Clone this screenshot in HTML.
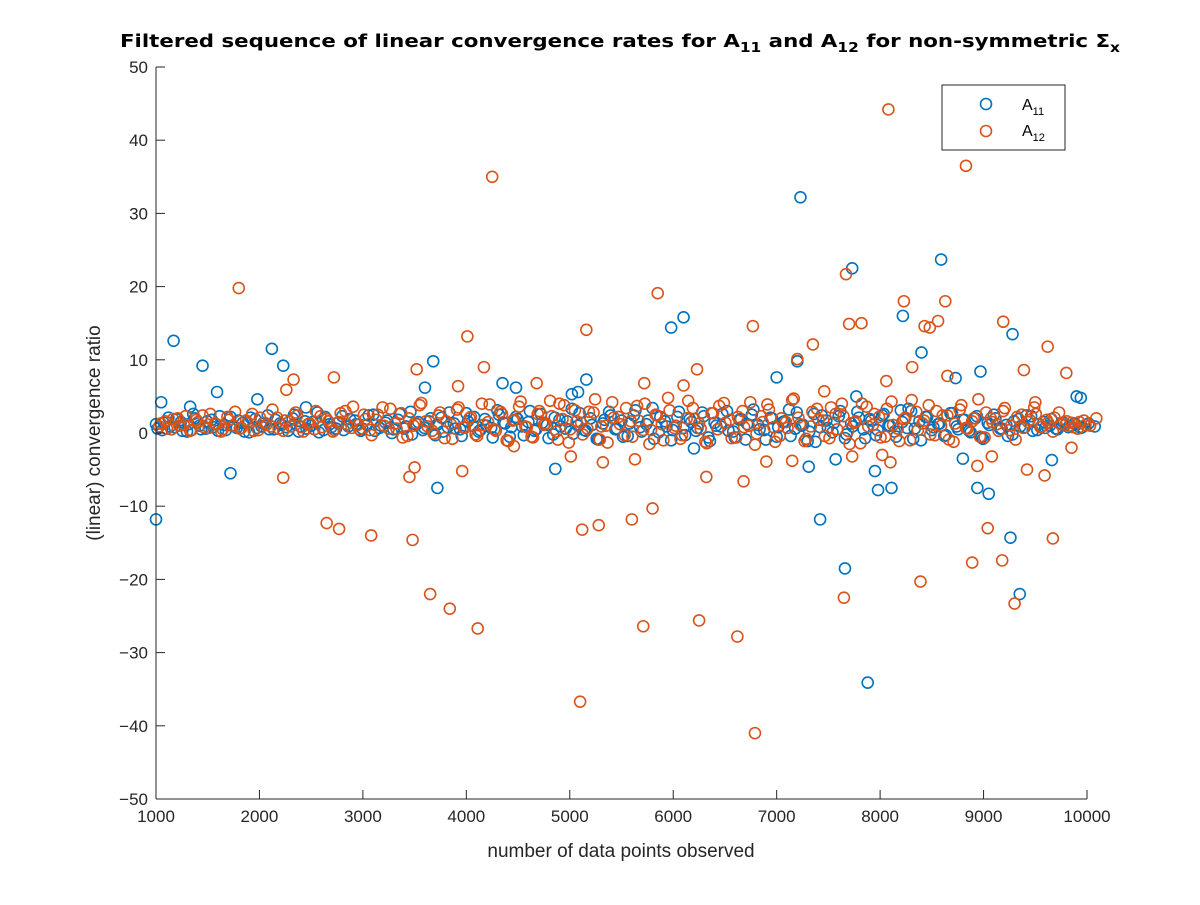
<!DOCTYPE html>
<html><head><meta charset="utf-8"><style>
body{margin:0;background:#fff}
svg text{font-family:"Liberation Sans","DejaVu Sans",sans-serif}
</style></head><body>
<svg id="c" width="1200" height="900" viewBox="0 0 1200 900">
<rect width="1200" height="900" fill="#fff"/>
<g id="marks"></g>
<g id="axes"></g>
<text x="120" y="47" textLength="1000" lengthAdjust="spacingAndGlyphs" font-size="18" font-weight="bold" style="font-family:'DejaVu Sans','Liberation Sans',sans-serif">Filtered sequence of linear convergence rates for A<tspan font-size="13" dy="5">11</tspan><tspan dy="-5"> and A</tspan><tspan font-size="13" dy="5">12</tspan><tspan dy="-5"> for non-symmetric Σ</tspan><tspan font-size="13" dy="5">x</tspan></text>
<text x="621" y="857" text-anchor="middle" font-size="19" fill="#262626">number of data points observed</text>
<text transform="translate(100,433) rotate(-90)" text-anchor="middle" font-size="19" fill="#262626">(linear) convergence ratio</text>
<g>
<rect x="942" y="85" width="123" height="65" fill="#fff" stroke="#262626" stroke-width="1"/>
<circle cx="986" cy="104" r="5.5" fill="none" stroke="#0072BD" stroke-width="1.6"/>
<text x="1022" y="110" font-size="16">A<tspan font-size="11" dy="5">11</tspan></text>
<circle cx="986" cy="131" r="5.5" fill="none" stroke="#D95319" stroke-width="1.6"/>
<text x="1022" y="136" font-size="16">A<tspan font-size="11" dy="5">12</tspan></text>
</g>
</svg>
<script>
const xTicks=[1000,2000,3000,4000,5000,6000,7000,8000,9000,10000];
const yTicks=[-50,-40,-30,-20,-10,0,10,20,30,40,50];
const a11OutX=[1000,1050,1170,1330,1450,1590,1720,1980,2120,2230,2450,3600,3680,3720,4350,4480,4860,5020,5080,5160,5980,6100,6200,7000,7200,7230,7310,7420,7570,7660,7730,7770,7880,7950,7980,8110,8220,8300,8400,8590,8730,8800,8940,8970,9050,9260,9280,9350,9660,9900,9940];
const a11OutY=[-11.8,4.2,12.6,3.6,9.2,5.6,-5.5,4.6,11.5,9.2,3.5,6.2,9.8,-7.5,6.8,6.2,-4.9,5.3,5.6,7.3,14.4,15.8,-2.1,7.6,9.8,32.2,-4.6,-11.8,-3.6,-18.5,22.5,5,-34.1,-5.2,-7.8,-7.5,16,3,11,23.7,7.5,-3.5,-7.5,8.4,-8.3,-14.3,13.5,-22,-3.7,5,4.8];
const a12OutX=[1800,2230,2260,2330,2650,2720,2770,3080,3450,3480,3500,3520,3650,3840,3920,3960,4010,4110,4170,4250,4460,4680,4900,5010,5100,5120,5160,5280,5320,5600,5630,5710,5720,5800,5850,6100,6230,6250,6320,6620,6680,6770,6790,6900,7150,7200,7350,7460,7650,7670,7700,7730,7820,8020,8060,8080,8100,8230,8310,8390,8430,8480,8560,8630,8650,8830,8890,8940,9040,9080,9180,9190,9300,9390,9420,9590,9620,9670,9800,9850,9500];
const a12OutY=[19.8,-6.1,5.9,7.3,-12.3,7.6,-13.1,-14,-6,-14.6,-4.7,8.7,-22,-24,6.4,-5.2,13.2,-26.7,9,35,-1.8,6.8,4,-3.2,-36.7,-13.2,14.1,-12.6,-4,-11.8,-3.6,-26.4,6.8,-10.3,19.1,6.5,8.7,-25.6,-6,-27.8,-6.6,14.6,-41,-3.9,-3.8,10.1,12.1,5.7,-22.5,21.7,14.9,-3.2,15,-3,7.1,44.2,-4,18,9,-20.3,14.6,14.4,15.3,18,7.8,36.5,-17.7,-4.5,-13,-3.2,-17.4,15.2,-23.3,8.6,-5,-5.8,11.8,-14.4,8.2,-2,4.2];
const bandStart=1000, bandStep=60;
const a11Band=[1.2,0.4,2.1,0.8,1.5,0.2,2.6,1.0,0.6,1.8,0.3,1.1,2.2,0.7,1.4,0.1,1.9,0.9,2.4,0.5,1.3,0.8,2.0,0.2,1.6,1.0,2.8,0.4,1.2,0.6,2.3,0.9,1.7,0.3,1.1,2.5,0.7,1.4,0.0,1.8,0.6,2.9,1.2,0.4,1.6,-0.3,2.1,0.8,1.3,0.5,2.7,1.0,0.2,1.9,0.7,3.1,1.4,-0.5,2.2,0.9,1.5,0.3,2.6,1.1,-0.2,1.8,0.6,3.3,1.0,0.4,2.0,-0.8,1.3,2.9,0.5,1.7,-0.4,2.4,0.8,1.2,3.4,0.1,1.6,-1.0,2.2,0.7,1.9,0.3,2.8,-0.6,1.4,0.9,3.0,0.2,1.8,-0.9,2.5,1.1,0.4,2.1,-0.5,1.5,3.2,0.6,1.0,-1.1,2.6,0.8,1.7,0.1,2.3,-0.7,1.3,2.9,0.5,1.9,-0.3,2.4,1.0,0.2,3.1,0.7,-0.8,1.6,2.2,0.4,1.2,-0.4,2.7,0.9,1.8,0.3,2.0,-0.6,1.4,2.5,0.6,1.1,-0.2,1.9,0.8,2.3,0.4,1.5,1.0,0.6,1.2,0.8,1.3,0.7];
const a11Band2=[0.6,1.4,0.9,1.9,0.3,1.2,2.0,0.5,1.6,0.8,2.3,0.4,1.0,1.7,0.2,2.1,0.7,1.3,0.5,1.8,1.1,0.3,2.5,0.9,0.6,1.5,0.1,2.2,0.8,1.4,0.4,1.9,1.2,0.6,2.4,0.3,1.0,1.7,0.5,2.6,0.9,-0.2,1.5,0.7,2.0,1.1,0.2,2.8,0.6,-0.4,1.6,2.2,0.4,1.0,-0.6,2.5,1.3,0.8,1.9,-0.3,3.0,0.5,1.4,-0.7,2.1,0.9,1.6,-0.1,2.7,0.3,1.1,-0.9,1.8,2.4,0.6,-0.5,1.3,3.1,0.2,1.7,-0.8,2.2,0.9,0.4,2.9,-0.3,1.5,0.7,2.3,-1.1,1.0,2.6,0.3,-0.6,1.9,1.2,3.2,0.5,-0.9,2.0,0.8,1.6,-0.4,2.8,1.1,0.2,-1.2,2.4,0.7,1.4,3.0,-0.2,0.9,2.1,-0.7,1.7,0.4,2.6,1.0,-0.5,1.5,3.3,0.6,-1.0,2.2,0.8,1.3,-0.3,2.7,0.5,1.8,0.1,2.3,-0.8,1.1,2.0,0.6,-0.4,1.6,0.9,2.4,0.3,1.2,0.7,1.9,0.5,1.4,1.0,1.1,0.8,1.3,0.9];
const a12Band=[0.9,1.6,0.5,2.0,1.1,0.3,1.8,2.4,0.7,1.3,0.2,2.2,1.0,0.6,1.7,2.6,0.4,1.4,0.9,2.1,0.3,1.6,2.8,0.8,1.2,0.5,2.3,1.9,0.2,1.5,3.0,0.7,1.1,2.5,0.4,1.8,3.5,0.6,1.3,2.7,-0.4,1.0,3.8,1.6,0.3,2.4,-0.7,1.2,3.2,0.8,2.0,-0.2,4.0,1.5,0.5,2.9,-1.0,1.7,3.6,0.9,-0.5,2.6,1.1,4.4,0.2,1.9,-1.3,3.1,1.4,0.6,2.8,-0.9,1.0,4.2,2.2,-0.3,1.6,3.7,0.4,-1.5,2.5,1.2,4.8,0.7,-0.8,2.0,3.4,1.3,-1.2,2.7,0.5,4.1,1.8,-0.6,3.0,1.0,-1.6,2.3,3.9,0.8,-0.4,1.5,4.5,2.1,-1.1,0.9,3.3,1.7,-0.7,2.6,4.0,0.3,1.4,-1.4,3.6,1.1,2.2,-0.5,4.3,0.6,1.9,-1.0,2.9,1.3,3.8,-0.3,1.0,2.4,-1.2,3.2,0.7,1.6,4.6,-0.6,2.0,1.2,3.0,0.4,-0.9,2.5,1.5,3.5,0.8,1.8,0.2,2.8,1.1,1.4,0.6,1.7,1.0,2.0];
const a12Band2=[1.3,0.6,1.9,1.0,2.3,0.4,1.5,0.8,2.6,1.2,0.5,1.8,2.9,0.7,1.4,0.3,2.1,1.1,3.2,0.6,1.7,0.9,2.4,0.2,1.3,3.0,0.8,1.6,0.4,2.7,1.2,3.6,0.5,1.9,-0.3,2.5,1.0,3.3,0.6,-0.6,2.0,1.4,4.1,0.9,-0.1,2.8,1.6,-0.8,3.5,0.7,2.2,-0.4,1.1,3.9,0.3,2.6,-1.1,1.8,4.3,0.8,-0.6,3.0,1.3,2.3,-0.9,3.8,0.5,1.6,-0.2,2.9,4.6,0.9,-1.3,2.1,1.2,3.4,-0.5,1.7,4.0,0.4,2.4,-1.0,3.1,1.0,-0.3,4.4,1.9,0.6,-1.4,2.7,3.7,1.4,-0.7,2.2,0.8,4.2,-0.1,1.5,3.2,-1.2,2.0,0.7,4.7,1.2,-0.8,2.9,1.8,-0.4,3.5,0.5,2.3,-1.5,1.6,4.0,0.9,2.6,-0.6,3.3,1.1,-1.1,2.1,4.5,0.4,1.7,-0.2,3.0,2.4,-0.9,1.3,3.8,0.6,2.0,-0.5,2.8,1.5,0.3,3.4,1.0,2.2,0.7,1.8,2.6,0.9,1.4,2.1,1.2,1.6,0.8,1.5,1.1];
const X0=156,X1=1087,Y0=799,Y1=67;
const xs=v=>X0+(v-1000)/9000*(X1-X0);
const ys=v=>Y0-(v+50)/100*(Y0-Y1);
const NS="http://www.w3.org/2000/svg";
const marks=document.getElementById('marks'), axes=document.getElementById('axes');
function dot(x,y,col,name){const c=document.createElementNS(NS,'circle');
c.setAttribute('cx',xs(x));c.setAttribute('cy',ys(y));c.setAttribute('r',5.5);
c.setAttribute('fill','none');c.setAttribute('stroke',col);c.setAttribute('stroke-width',1.6);


marks.appendChild(c);}
const B='#0072BD',O='#D95319';
a11Band.forEach((v,i)=>dot(bandStart+i*bandStep,v,B,'a11-point'));
a11Band2.forEach((v,i)=>dot(bandStart+15+i*bandStep,v,B,'a11-point'));
a11OutX.forEach((x,i)=>dot(x,a11OutY[i],B,'a11-point'));
a12Band.forEach((v,i)=>dot(bandStart+30+i*bandStep,v,O,'a12-point'));
a12Band2.forEach((v,i)=>dot(bandStart+45+i*bandStep,v,O,'a12-point'));
a12OutX.forEach((x,i)=>dot(x,a12OutY[i],O,'a12-point'));
function ln(x1,y1,x2,y2,name){const l=document.createElementNS(NS,'line');
l.setAttribute('x1',x1);l.setAttribute('y1',y1);l.setAttribute('x2',x2);l.setAttribute('y2',y2);
l.setAttribute('stroke','#262626');l.setAttribute('stroke-width',1);


axes.appendChild(l);}
function tx(x,y,s,anchor,name){const t=document.createElementNS(NS,'text');
t.setAttribute('x',x);t.setAttribute('y',y);t.setAttribute('text-anchor',anchor);
t.setAttribute('font-size',17);t.setAttribute('fill','#262626');t.textContent=s;


axes.appendChild(t);}
ln(X0,Y0,X1,Y0,'x-axis-line');ln(X0,Y1,X0,Y0,'y-axis-line');
xTicks.forEach(v=>{const x=xs(v);ln(x,Y0,x,Y0-9,'x-tick');tx(x,Y0+23,String(v),'middle','x-tick-label');});
yTicks.forEach(v=>{const y=ys(v);ln(X0,y,X0+9,y,'y-tick');tx(X0-8,y+6,v<0?'−'+(-v):String(v),'end','y-tick-label');});
</script>
</body></html>
